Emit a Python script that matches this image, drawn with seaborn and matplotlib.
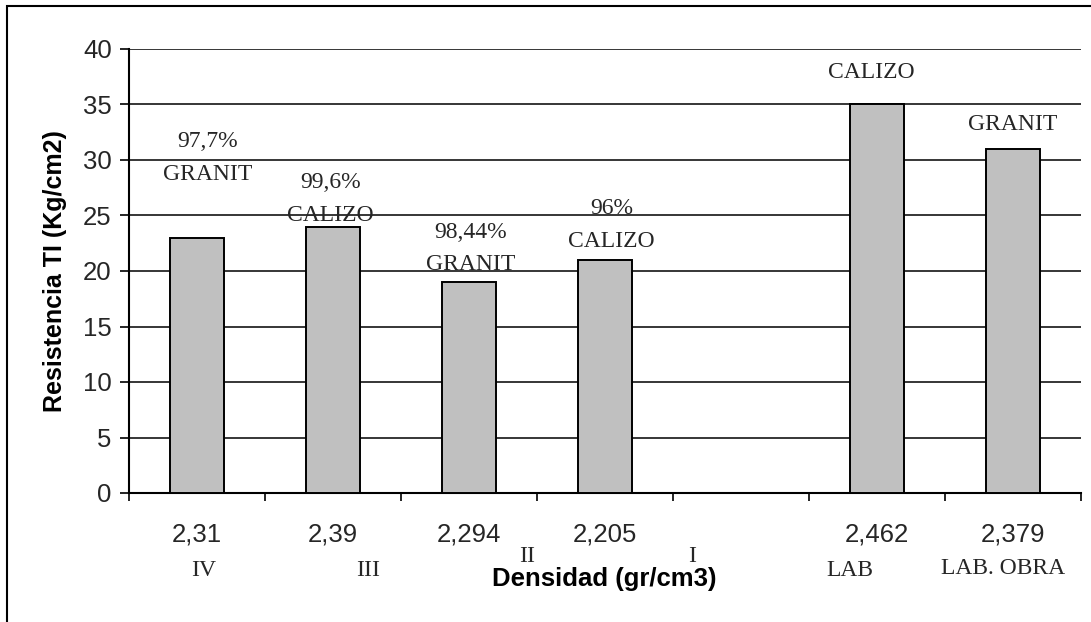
import matplotlib
matplotlib.use("Agg")
import matplotlib.pyplot as plt
import seaborn as sns
import pandas as pd
from matplotlib.patches import Rectangle

# ---- data ----
categories = ["2,31", "2,39", "2,294", "2,205", "", "2,462", "2,379"]
bar_labels = ["2,31", "2,39", "2,294", "2,205", "2,462", "2,379"]
resistencia = [23, 24, 19, 21, 35, 31]
pct_texts = ["97,7%", "99,6%", "98,44%", "96%"]
pct_pos = [(0.08, 31.7), (0.98, 28.0), (2.01, 23.5), (3.05, 25.6)]
mat_texts = ["GRANIT", "CALIZO", "GRANIT", "CALIZO", "CALIZO", "GRANIT"]
mat_pos = [(0.08, 28.7), (0.98, 25.0), (2.01, 20.6), (3.05, 22.7), (4.96, 37.9), (6.0, 33.2)]
site_texts = ["IV", "III", "II", "I", "LAB", "LAB. OBRA"]
site_pos = [(0.05, -6.95), (1.26, -6.95), (2.43, -5.7), (3.64, -5.7), (4.80, -6.95), (5.93, -6.8)]
site_sizes = [17, 17, 17, 17, 17, 17]

df = pd.DataFrame({"dens": bar_labels, "res": resistencia})

sns.set_theme(style="white")
plt.rcParams["font.family"] = ["Liberation Sans", "DejaVu Sans"]

fig = plt.figure(figsize=(10.91, 6.22), dpi=100)
ax = fig.add_axes([129 / 1091, 1 - 493 / 622, 952 / 1091, 444 / 622])

sns.barplot(data=df, x="dens", y="res", order=categories, color="#C0C0C0",
            width=0.4, edgecolor="black", linewidth=1.4, saturation=1, ax=ax, zorder=3)

ax.set_ylim(0, 40)
ax.set_xlim(-0.5, len(categories) - 0.5)
ax.set_yticks(range(0, 41, 5))
ax.yaxis.grid(True, color="black", linewidth=1.1, zorder=0)
ax.set_axisbelow(True)

# x ticks at boundaries, labels at centres
ax.set_xticks([i - 0.5 for i in range(len(categories) + 1)])
ax.set_xticklabels([])
ax.set_xticks(range(len(categories)), minor=True)
ax.set_xticklabels(categories, minor=True)
ax.tick_params(axis="x", which="major", direction="out", length=6, width=1.2, color="black", bottom=True)
ax.tick_params(axis="x", which="minor", length=0, pad=21, labelsize=18.5)
ax.tick_params(axis="y", direction="out", length=6.5, width=1.2, color="black", left=True, labelsize=18.5, pad=6)

for s in ["top", "right"]:
    ax.spines[s].set_visible(False)
for s in ["left", "bottom"]:
    ax.spines[s].set_visible(True)
    ax.spines[s].set_color("black")
    ax.spines[s].set_linewidth(1.5)

ax.set_xlabel("Densidad (gr/cm3)", fontsize=18.5, fontweight="bold", color="black")
ax.xaxis.set_label_coords((604 - 129) / 952, (493 - 579) / 444)
ax.xaxis.label.set_verticalalignment("center")
ax.set_ylabel("Resistencia TI (Kg/cm2)", fontsize=18, fontweight="bold", color="black")
ax.yaxis.set_label_coords((55 - 129) / 952, 0.5)
ax.yaxis.label.set_verticalalignment("center")

serif = ["Liberation Serif", "DejaVu Serif"]
for t, (x, y) in zip(pct_texts, pct_pos):
    ax.text(x, y, t, ha="center", va="center", fontsize=17, family=serif, zorder=5)
for t, (x, y) in zip(mat_texts, mat_pos):
    ax.text(x, y, t, ha="center", va="center", fontsize=17, family=serif, zorder=5)
for t, (x, y), fs in zip(site_texts, site_pos, site_sizes):
    ax.text(x, y, t, ha="center", va="center", fontsize=fs, family=serif, clip_on=False)

# outer chart-area frame (only top and left edges visible)
fig.patches.append(Rectangle((7 / 1091, -0.2), 1.5, 1.2 - 6 / 622, transform=fig.transFigure,
                             fill=False, edgecolor="black", linewidth=1.5))

fig.savefig("out.png", dpi=100)
